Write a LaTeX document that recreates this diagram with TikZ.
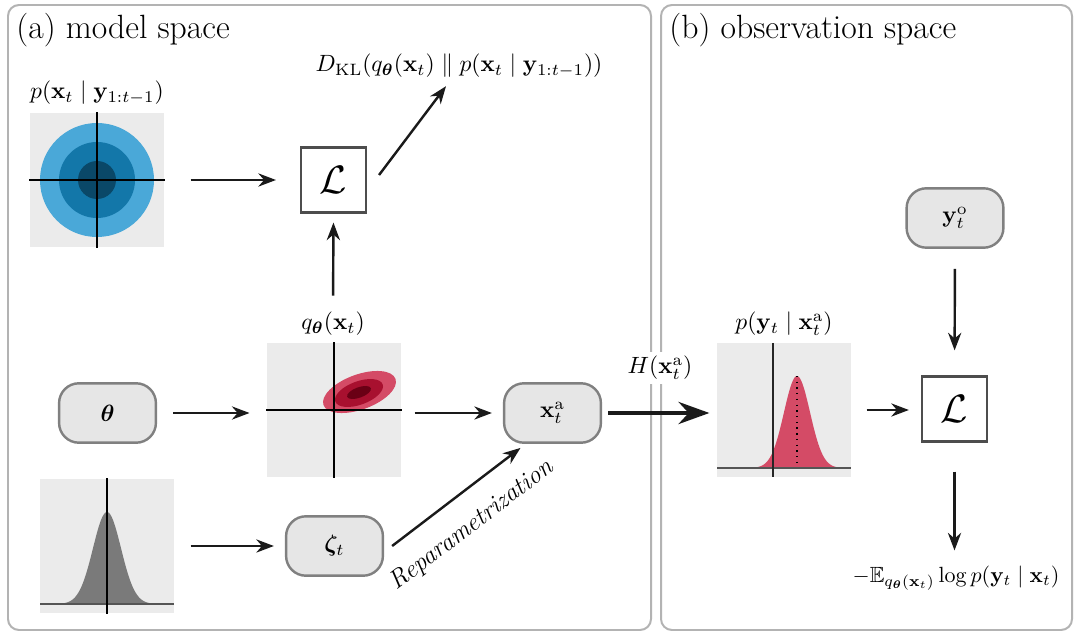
\documentclass[tikz,border=0pt]{standalone}
\usepackage{fix-cm}
\usepackage{amsmath,amssymb,bm}
\usetikzlibrary{arrows.meta,calc}
\definecolor{panelgray}{HTML}{B3B3B3}
\definecolor{boxfill}{HTML}{E6E6E6}
\definecolor{boxline}{HTML}{808080}
\definecolor{imgbg}{HTML}{EBEBEB}
\definecolor{blueA}{HTML}{4AA8D8}
\definecolor{blueB}{HTML}{1377A9}
\definecolor{blueC}{HTML}{0A4868}
\definecolor{redA}{HTML}{D44B66}
\definecolor{redB}{HTML}{A8102F}
\definecolor{redC}{HTML}{6A0015}
\definecolor{gaussgray}{HTML}{7A7A7A}
\definecolor{lboxline}{HTML}{4D4D4D}
\definecolor{arrowc}{HTML}{1A1A1A}
\definecolor{axisgray}{HTML}{555555}
\begin{document}
\fontsize{10.7}{13}\selectfont
\begin{tikzpicture}[x=0.4545pt,y=-0.4545pt,
  panel/.style={draw=panelgray,line width=0.9pt,rounded corners=5pt},
  varnode/.style={draw=boxline,fill=boxfill,line width=1.1pt,rounded corners=9pt,minimum width=44pt,minimum height=27pt,inner sep=0pt},
  lossbox/.style={draw=lboxline,line width=1pt,minimum size=29.5pt,inner sep=0pt,font=\fontsize{18}{20}\selectfont},
  imgbox/.style={fill=imgbg,minimum size=61pt,inner sep=0pt},
  lab/.style={inner sep=0pt},
  ttl/.style={anchor=base west,inner sep=0pt,font=\fontsize{15.3}{18}\selectfont},
  arr/.style={draw=arrowc,line width=1.1pt,-{Stealth[length=8pt,width=6pt]}},
  axisline/.style={line width=0.7pt}
]
\useasboundingbox (0,0) rectangle (1076,633);
% panels
\draw[panel] (8,5) rectangle (651,630);
\draw[panel] (661,5) rectangle (1072,630);
\node[ttl] (ta) at (16,39) {(a) model space};
\node[ttl] (tb) at (669,39) {(b) observation space};

% prior image
\node[imgbox] (prior) at (97,180) {};
\fill[blueA] (97,180) circle (57);
\fill[blueB] (97,180) circle (38);
\fill[blueC] (97,180) circle (19);
\draw[axisline,black] (prior.north) -- (prior.south);
\draw[axisline,black] (prior.west) -- (prior.east);
\node[lab] (priorlab) at (97,93) {$p(\mathbf{x}_t \mid \mathbf{y}_{1:t-1})$};

% posterior image
\node[imgbox] (post) at (334,410) {};
\fill[redA, rotate around={20:(359.5,392)}] (359.5,392) ellipse (38.3 and 17.5);
\fill[redB, rotate around={20:(359,393)}] (359,393) ellipse (25.2 and 11.7);
\fill[redC, rotate around={20:(359,392.5)}] (359,392.5) ellipse (12.6 and 5.2);
\draw[axisline,black] (post.north) -- (post.south);
\draw[axisline,black] (post.west) -- (post.east);
\node[lab] (qlab) at (333,324) {$q_{\bm{\theta}}(\mathbf{x}_t)$};

% standard normal image
\node[imgbox] (std) at (107,546) {};
\fill[gaussgray] plot[domain=-67:67,samples=120] ({107+\x},{604-92*exp(-(\x*\x)/392)}) -- cycle;
\draw[axisline,axisgray] (40,604) -- (174,604);
\draw[axisline,black] (std.north) -- (std.south);

% likelihood image
\node[imgbox] (lik) at (784,410) {};
\fill[redA] plot[domain=-80:54,samples=120] ({797+\x},{468-92*exp(-(\x*\x)/338)}) -- cycle;
\draw[dotted,line width=0.6pt] (797,376) -- (797,468);
\draw[axisline,axisgray] (717,468) -- (851,468);
\draw[axisline,black!85] (773,343) -- (773,477);
\node[lab] (liklab) at (784,324) {$p(\mathbf{y}_t \mid \mathbf{x}_t^{\mathrm{a}})$};

% variable nodes
\node[varnode] (theta) at (107.5,413) {$\bm{\theta}$};
\node[varnode] (xa) at (552.5,413) {$\mathbf{x}_t^{\mathrm{a}}$};
\node[varnode] (zeta) at (334.5,546) {$\bm{\zeta}_t$};
\node[varnode] (yo) at (955,218) {$\mathbf{y}_t^{\mathrm{o}}$};

% loss boxes
\node[lossbox] (L1) at (333.5,180) {$\mathcal{L}$};
\node[lossbox] (L2) at (954.5,409) {$\mathcal{L}$};

% other labels
\node[lab] (dkl) at (459,66) {$D_{\mathrm{KL}}(q_{\bm{\theta}}(\mathbf{x}_t) \parallel p(\mathbf{x}_t \mid \mathbf{y}_{1:t-1}))$};
\node[lab,fill=white,inner sep=2pt] (hlab) at (660,368) {$H(\mathbf{x}_t^{\mathrm{a}})$};
\node[lab,font=\fontsize{10}{12}\selectfont] (elab) at (956,578) {$-\mathbb{E}_{q_{\bm{\theta}}(\mathbf{x}_t)} \log p(\mathbf{y}_t \mid \mathbf{x}_t)$};

% connectors
\draw[arr,shorten <=11.8pt,shorten >=10.9pt] (prior.east) -- (L1.west);
\draw[arr] ($(L1.east)+(12,-5)$) -- ($(dkl.south)+(-13,8)$);
\draw[arr,shorten <=7.3pt,shorten >=4.1pt] (qlab.north) -- (L1.south);
\draw[arr,shorten <=7.3pt,shorten >=7.7pt] (theta.east) -- (theta.east -| post.west);
\draw[arr,shorten <=5.9pt,shorten >=5pt] (post.east |- xa.west) -- (xa.west);
\draw[draw=arrowc,line width=2pt,-{Stealth[length=14pt,width=10pt]},shorten <=2.7pt,shorten >=3.2pt] (xa.east) -- (xa.east -| lik.west);
\draw[arr,shorten <=6.8pt,shorten >=5.5pt] (lik.east) -- (lik.east -| L2.west);
\draw[arr,shorten <=9.1pt,shorten >=11.4pt] (yo.south) -- (L2.north);
\draw[arr,shorten <=13.2pt,shorten >=6.8pt] (L2.south) -- (L2.south |- elab.north);
\draw[arr,shorten <=7.3pt,shorten >=5pt] (std.east) -- (zeta.west);
\draw[arr] ($(zeta.east)+(8,0)$) -- ($(xa.south)+(-32,4)$)
  node[pos=0.47,sloped,below=5.5pt,font=\fontsize{11.6}{14}\selectfont\itshape] (rep) {Reparametrization};
\end{tikzpicture}
\end{document}
